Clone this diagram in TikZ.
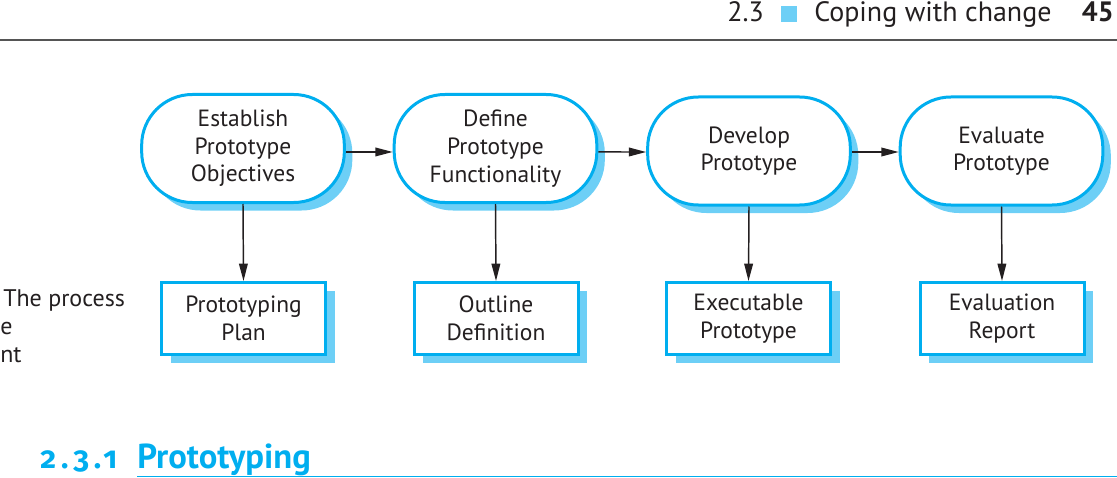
\documentclass[tikz,border=0pt]{standalone}
\usepackage{fontspec}
\setmainfont{PT Sans}
\newfontfamily\numfont[Numbers=OldStyle,LetterSpace=16]{Fira Sans}
\usetikzlibrary{arrows.meta,shadows}
\definecolor{cyanb}{HTML}{00AEEF}
\definecolor{shad}{HTML}{6DCFF6}
\definecolor{txt}{HTML}{231F20}
\definecolor{rule}{HTML}{555555}
\begin{document}
\begin{tikzpicture}[x=0.75pt,y=-0.75pt,
  every node/.style={text=txt, font=\fontsize{17.6}{20.7}\selectfont, inner sep=0pt},
  stad/.style={draw=cyanb, line width=2.25pt, fill=white, rounded corners=38pt,
    minimum width=152pt, minimum height=81pt, align=center,
    general shadow={fill=shad, draw=none, shadow xshift=6pt, shadow yshift=-6pt}},
  outbox/.style={draw=cyanb, line width=2.25pt, fill=white,
    minimum width=123pt, minimum height=54pt, align=center,
    general shadow={fill=shad, draw=none, shadow xshift=6.75pt, shadow yshift=-6.5pt}},
  arr/.style={line width=1.1pt, draw=txt, -{Triangle[length=13pt,width=6.5pt]}},
  plain/.style={anchor=base west},
  hdr/.style={font=\fontsize{21}{24}\selectfont}
]
\useasboundingbox (0,0) rectangle (1117,478);

% header
\node[plain, hdr] (hnum) at (727,22) {2.3};
\fill[shad] (781,6) rectangle (797,22);
\node[plain, hdr] (htitle) at (814,22) {Coping with change};
\node[anchor=base east, hdr, font=\fontsize{21}{24}\selectfont\bfseries] (hpage) at (1114,22) {45};
\draw[rule, line width=1.9pt] (0,40) -- (1117,40);

% process stages
\node[stad] (s1) at (243,148.5) {Establish\\Prototype\\Objectives};
\node[stad] (s2) at (495.5,148.5) {Define\\Prototype\\Functionality};
\node[stad] (s3) at (749,151) {Develop\\Prototype};
\node[stad] (s4) at (1001.5,151) {Evaluate\\Prototype};

% outputs
\node[outbox] (b1) at (243.5,318.5) {Prototyping\\Plan};
\node[outbox] (b2) at (496,318.5) {Outline\\Definition};
\node[outbox] (b3) at (748.5,318.5) {Executable\\Prototype};
\node[outbox] (b4) at (1002,318.5) {Evaluation\\Report};

% connectors
\draw[arr] ([yshift=-2.6pt]s1.east) -- ([yshift=-2.6pt]s2.west);
\draw[arr] ([yshift=-2.6pt]s2.east) -- ([yshift=-0.75pt]s3.west);
\draw[arr] ([yshift=-0.75pt]s3.east) -- ([yshift=-0.75pt]s4.west);
\draw[arr] (s1.south) -- (b1.north);
\draw[arr] (s2.south) -- (b2.north);
\draw[arr] (s3.south) -- (b3.north);
\draw[arr] (s4.south) -- (b4.north);

% caption fragments
\node[plain, font=\fontsize{18}{22}\selectfont] (c1) at (3,306) {The process};
\node[plain, font=\fontsize{18}{22}\selectfont] (c2) at (0,334) {e};
\node[plain, font=\fontsize{18}{22}\selectfont] (c3) at (0,362) {nt};

% section heading
\node[plain, text=cyanb, font=\fontsize{23}{26}\selectfont\numfont\bfseries] (secnum) at (40,468) {2.3.1};
\node[plain, text=cyanb, font=\fontsize{26}{30}\selectfont\bfseries] (sectitle) at (137,468) {Prototyping};
\draw[cyanb, line width=1.1pt] (137,476.5) -- (1117,476.5);
\end{tikzpicture}
\end{document}
